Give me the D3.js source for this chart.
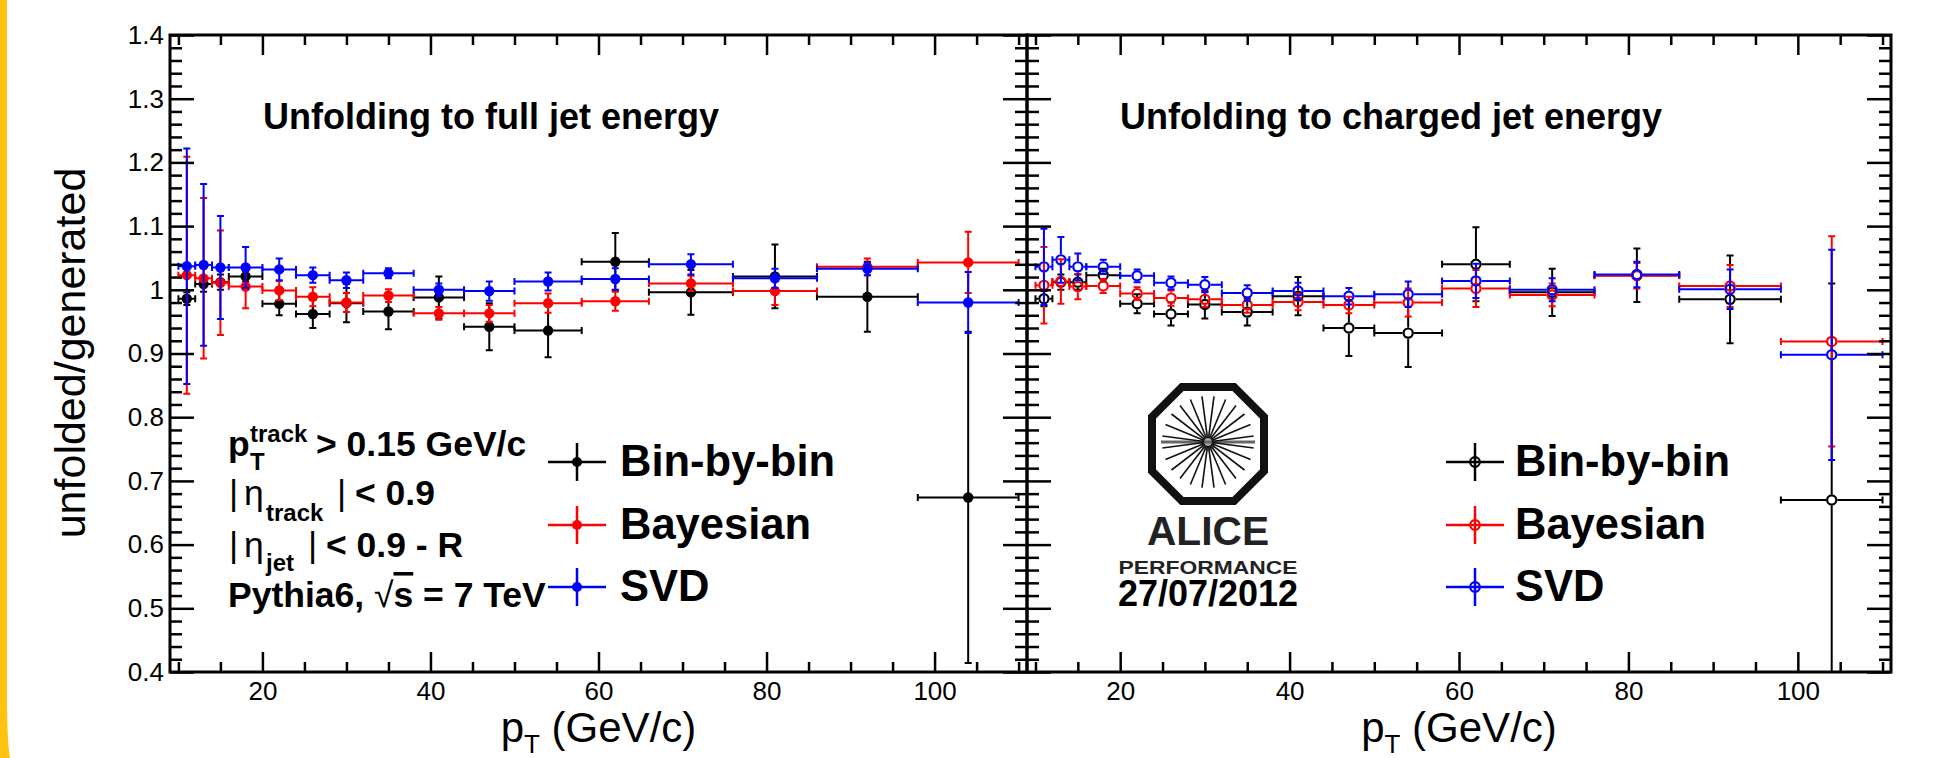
<!DOCTYPE html>
<html>
<head>
<meta charset="utf-8">
<script src="https://cdn.jsdelivr.net/npm/d3@7/dist/d3.min.js"></script>
<style>
  html,body{margin:0;padding:0;background:#fff;}
  svg{display:block;}
  text{font-family:"Liberation Sans",Arial,Helvetica,sans-serif;}
</style>
</head>
<body>
<svg id="chart" width="1945" height="758"></svg>
<script>
// ---------------- data ----------------
const binLow    = [10,12,14,16,20,24,28,32,38,44,50,58,66,76,86,98];
const binHigh   = [12,14,16,20,24,28,32,38,44,50,58,66,76,86,98,110];
const binCenter = [11,13,15,18,22,26,30,35,41,47,54,62,71,81,92,104];

// Unfolding to full jet energy (filled markers)
const fullBinByBin    = [0.986,1.009,1.012,1.021,0.978,0.962,0.979,0.966,0.988,0.942,0.936,1.044,0.996,1.021,0.989,0.674];
const fullBinByBinErr = [0.010,0.012,0.012,0.008,0.018,0.022,0.030,0.028,0.033,0.037,0.042,0.045,0.035,0.050,0.055,0.260];
const fullBayes       = [1.023,1.018,1.011,1.005,0.999,0.989,0.980,0.991,0.963,0.963,0.979,0.982,1.010,0.998,1.036,1.043];
const fullBayesErr    = [0.186,0.126,0.082,0.034,0.015,0.015,0.015,0.010,0.010,0.013,0.015,0.015,0.012,0.022,0.013,0.048];
const fullSVD         = [1.037,1.039,1.035,1.035,1.032,1.023,1.015,1.026,1.000,0.998,1.013,1.017,1.040,1.018,1.033,0.980];
const fullSVDErr      = [0.185,0.127,0.081,0.032,0.017,0.012,0.012,0.008,0.010,0.015,0.014,0.017,0.016,0.015,0.010,0.048];

// Unfolding to charged jet energy (open markers)
const chBinByBin      = [0.986,1.012,1.012,1.023,0.978,0.962,0.977,0.965,0.990,0.940,0.932,1.040,0.996,1.023,0.985,0.670];
const chBinByBinErr   = [0.012,0.012,0.012,0.010,0.015,0.018,0.022,0.021,0.030,0.044,0.053,0.058,0.037,0.042,0.069,0.340];
const chBayes         = [1.007,1.013,1.005,1.006,0.994,0.987,0.985,0.976,0.981,0.976,0.980,1.002,0.992,1.022,1.006,0.919];
const chBayesErr      = [0.060,0.035,0.020,0.011,0.010,0.012,0.012,0.012,0.013,0.013,0.022,0.029,0.018,0.020,0.033,0.165];
const chSVD           = [1.036,1.047,1.036,1.036,1.022,1.011,1.008,0.995,0.998,0.990,0.993,1.014,1.000,1.024,1.001,0.898];
const chSVDErr        = [0.060,0.036,0.021,0.011,0.010,0.010,0.012,0.012,0.013,0.013,0.020,0.027,0.018,0.020,0.031,0.165];

const xTickValues = [20,40,60,80,100];
const xTickLabels = ["20","40","60","80","100"];
const yTickValues = [0.4,0.5,0.6,0.7,0.8,0.9,1.0,1.1,1.2,1.3,1.4];
const yTickLabels = ["0.4","0.5","0.6","0.7","0.8","0.9","1","1.1","1.2","1.3","1.4"];
const legendLabels = ["Bin-by-bin","Bayesian","SVD"];
const seriesColors = ["#000000","#ff0000","#0000ff"];
const panelTitles  = ["Unfolding to full jet energy","Unfolding to charged jet energy"];

// ---------------- layout ----------------
const FONT = '"Liberation Sans", Arial, Helvetica, sans-serif';
const svg = d3.select("#chart");
const yTop = 35, yBot = 672, xL0 = 170, xDiv = 1027, xR1 = 1891;
const y = d3.scaleLinear().domain([0.4,1.4]).range([yBot, yTop]);
const xLeft  = d3.scaleLinear().domain([9,111]).range([xL0, xDiv]);
const xRight = d3.scaleLinear().domain([9,111]).range([xDiv, xR1]);

// yellow side stripe
svg.append("path").attr("d","M0,0 H7 V705 Q7.5,745 10,758 H0 Z").attr("fill","#FFC20E");

const xMinor = d3.range(10,111,5).filter(v => !xTickValues.includes(v));
const yMinor = d3.range(0,51).map(i => +(0.4+i*0.02).toFixed(2))
  .filter(v => !yTickValues.some(t => Math.abs(t-v) < 1e-6));

function styleAxis(g){
  g.select(".domain").remove();
  g.selectAll(".tick line").attr("stroke","#000").attr("stroke-width",2.5);
  g.selectAll(".tick text").attr("fill","#000").attr("font-family",FONT).attr("font-size",26);
}

function drawFrame(x, showY){
  const [x0,x1] = x.range();
  const g = svg.append("g");
  g.append("g").attr("transform",`translate(0,${yBot})`)
    .call(d3.axisBottom(x).tickValues(xTickValues).tickFormat((d,i)=>xTickLabels[i]).tickSize(-20).tickPadding(10)).call(styleAxis);
  g.append("g").attr("transform",`translate(0,${yBot})`)
    .call(d3.axisBottom(x).tickValues(xMinor).tickFormat("").tickSize(-10)).call(styleAxis);
  g.append("g").attr("transform",`translate(0,${yTop})`)
    .call(d3.axisTop(x).tickValues(xTickValues).tickFormat("").tickSize(-20)).call(styleAxis);
  g.append("g").attr("transform",`translate(0,${yTop})`)
    .call(d3.axisTop(x).tickValues(xMinor).tickFormat("").tickSize(-10)).call(styleAxis);
  g.append("g").attr("transform",`translate(${x0},0)`)
    .call(d3.axisLeft(y).tickValues(yTickValues).tickFormat(showY ? (d,i)=>yTickLabels[i] : "").tickSize(-24).tickPadding(6)).call(styleAxis);
  g.append("g").attr("transform",`translate(${x0},0)`)
    .call(d3.axisLeft(y).tickValues(yMinor).tickFormat("").tickSize(-12)).call(styleAxis);
  g.append("g").attr("transform",`translate(${x1},0)`)
    .call(d3.axisRight(y).tickValues(yTickValues).tickFormat("").tickSize(-24)).call(styleAxis);
  g.append("g").attr("transform",`translate(${x1},0)`)
    .call(d3.axisRight(y).tickValues(yMinor).tickFormat("").tickSize(-12)).call(styleAxis);
  g.append("rect").attr("x",x0).attr("y",yTop).attr("width",x1-x0).attr("height",yBot-yTop)
    .attr("fill","none").attr("stroke","#000").attr("stroke-width",3);
}

function drawSeries(g, x, vals, errs, color, open){
  const r = open ? 4.6 : 5.2, gap = open ? 5.6 : 0, cap = 3.5;
  const pts = binCenter.map((c,i)=>({
    cx:x(c), cy:y(vals[i]), xl:x(binLow[i]), xh:x(binHigh[i]),
    yt:y(vals[i]+errs[i]), yb:y(vals[i]-errs[i])
  }));
  const gg = g.append("g");
  gg.selectAll("path").data(pts).join("path")
    .attr("fill","none").attr("stroke",color).attr("stroke-width",2)
    .attr("d", p => {
      let d = `M${p.xl},${p.cy}H${p.cx-gap}M${p.cx+gap},${p.cy}H${p.xh}`;
      d += `M${p.xl},${p.cy-cap}V${p.cy+cap}M${p.xh},${p.cy-cap}V${p.cy+cap}`;
      if (p.cy-gap > p.yt) d += `M${p.cx},${p.cy-gap}V${p.yt}`;
      if (p.yb > p.cy+gap) d += `M${p.cx},${p.cy+gap}V${p.yb}`;
      d += `M${p.cx-cap},${p.yt}H${p.cx+cap}M${p.cx-cap},${p.yb}H${p.cx+cap}`;
      return d;
    });
  gg.selectAll("circle").data(pts).join("circle")
    .attr("cx",p=>p.cx).attr("cy",p=>p.cy).attr("r",r)
    .attr("fill", open ? "none" : color)
    .attr("stroke", color).attr("stroke-width", open ? 2.2 : 0);
}

const defs = svg.append("defs");
defs.append("clipPath").attr("id","clipL").append("rect").attr("x",xL0).attr("y",yTop).attr("width",xDiv-xL0).attr("height",yBot-yTop);
defs.append("clipPath").attr("id","clipR").append("rect").attr("x",xDiv).attr("y",yTop).attr("width",xR1-xDiv).attr("height",yBot-yTop);

const gL = svg.append("g").attr("clip-path","url(#clipL)");
drawSeries(gL, xLeft, fullBinByBin, fullBinByBinErr, seriesColors[0], false);
drawSeries(gL, xLeft, fullBayes, fullBayesErr, seriesColors[1], false);
drawSeries(gL, xLeft, fullSVD, fullSVDErr, seriesColors[2], false);
const gR = svg.append("g").attr("clip-path","url(#clipR)");
drawSeries(gR, xRight, chBinByBin, chBinByBinErr, seriesColors[0], true);
drawSeries(gR, xRight, chBayes, chBayesErr, seriesColors[1], true);
drawSeries(gR, xRight, chSVD, chSVDErr, seriesColors[2], true);

drawFrame(xLeft, true);
drawFrame(xRight, false);

// panel titles
svg.append("text").attr("x",263).attr("y",129).attr("font-size",36).attr("font-weight","bold").text(panelTitles[0]);
svg.append("text").attr("x",1120).attr("y",129).attr("font-size",36).attr("font-weight","bold").text(panelTitles[1]);

// axis titles
[xLeft, xRight].forEach(x => {
  const [a,b] = x.range();
  const t = svg.append("text").attr("x",(a+b)/2).attr("y",742).attr("text-anchor","middle").attr("font-size",42);
  t.append("tspan").text("p");
  t.append("tspan").attr("font-size",26).attr("dy",11).text("T");
  t.append("tspan").attr("dy",-11).text(" (GeV/c)");
});
svg.append("text").attr("transform","translate(85,353) rotate(-90)").attr("text-anchor","middle")
  .attr("font-size",43).text("unfolded/generated");

// info text block (left panel)
const info = svg.append("g").attr("font-weight","bold").attr("font-size",35.5);
let t1 = info.append("text").attr("x",228).attr("y",456);
t1.append("tspan").text("p");
t1.append("tspan").attr("x",250).attr("y",470).attr("font-size",24).text("T");
t1.append("tspan").attr("x",250).attr("y",442).attr("font-size",24).text("track");
t1.append("tspan").attr("x",316).attr("y",456).text("> 0.15 GeV/c");

let t2 = info.append("text").attr("x",229).attr("y",505);
t2.append("tspan").attr("font-weight","normal").text("|");
t2.append("tspan").attr("x",244).attr("font-weight","normal").text("η");
t2.append("tspan").attr("x",266).attr("y",521).attr("font-size",24).text("track");
t2.append("tspan").attr("x",337).attr("y",505).attr("font-weight","normal").text("|");
t2.append("tspan").attr("x",355).text("< 0.9");

let t3 = info.append("text").attr("x",229).attr("y",557);
t3.append("tspan").attr("font-weight","normal").text("|");
t3.append("tspan").attr("x",244).attr("font-weight","normal").text("η");
t3.append("tspan").attr("x",266).attr("y",571).attr("font-size",24).text("jet");
t3.append("tspan").attr("x",308).attr("y",557).attr("font-weight","normal").text("|");
t3.append("tspan").attr("x",326).text("< 0.9 - R");

let t4 = info.append("text").attr("x",228).attr("y",607);
t4.append("tspan").text("Pythia6, ");
t4.append("tspan").attr("font-weight","normal").text("√");
t4.append("tspan").attr("text-decoration","overline").text("s");
t4.append("tspan").text(" = 7 TeV");

// legends
function drawLegend(xm, xt, open){
  const rows = [462, 525, 587];
  const g = svg.append("g");
  legendLabels.forEach((lab,i) => {
    const c = seriesColors[i], yy = rows[i];
    g.append("path").attr("d",`M${xm-29},${yy}H${xm+29}M${xm},${yy-19}V${yy+19}`)
      .attr("stroke",c).attr("stroke-width",2.5).attr("fill","none");
    g.append("circle").attr("cx",xm).attr("cy",yy).attr("r",open?4.8:5)
      .attr("fill",open?"none":c).attr("stroke",c).attr("stroke-width",open?2.2:0);
    g.append("text").attr("x",xt).attr("y",yy+14).attr("font-size",43.5).attr("font-weight","bold").text(lab);
  });
}
drawLegend(577, 620, false);
drawLegend(1475, 1515, true);

// ALICE logo
const logo = svg.append("g").attr("transform","translate(1208,444)");
const oct = [[-26,-57],[26,-57],[56,-27],[56,27],[26,57],[-26,57],[-56,27],[-56,-27]];
logo.append("path").attr("d","M"+oct.map(p=>p.join(",")).join("L")+"Z")
  .attr("fill","none").attr("stroke","#111").attr("stroke-width",8).attr("stroke-linejoin","miter");
logo.append("circle").attr("r",7).attr("fill","#aaa");
logo.append("line").attr("x1",-47).attr("x2",47).attr("y1",-2).attr("y2",-2).attr("stroke","#666").attr("stroke-width",3);
d3.range(24).forEach(k => {
  const a = (7.5 + 15*k) * Math.PI/180;
  logo.append("line").attr("x1",4*Math.cos(a)).attr("y1",-2+4*Math.sin(a))
    .attr("x2",46*Math.cos(a)).attr("y2",-2+46*Math.sin(a))
    .attr("stroke","#111").attr("stroke-width",1.6);
});
svg.append("text").attr("x",1208).attr("y",545).attr("text-anchor","middle")
  .attr("font-family","'DejaVu Sans Mono', monospace").attr("font-weight","bold").attr("font-size",41).attr("fill","#222")
  .attr("textLength",122).attr("lengthAdjust","spacingAndGlyphs").text("ALICE");
svg.append("text").attr("x",1208).attr("y",574).attr("text-anchor","middle")
  .attr("font-family","'DejaVu Sans Mono', monospace").attr("font-weight","bold").attr("font-size",19).attr("fill","#222")
  .attr("textLength",179).attr("lengthAdjust","spacingAndGlyphs").text("PERFORMANCE");
svg.append("text").attr("x",1208).attr("y",606).attr("text-anchor","middle")
  .attr("font-size",36).attr("font-weight","bold").text("27/07/2012");
</script>
</body>
</html>
